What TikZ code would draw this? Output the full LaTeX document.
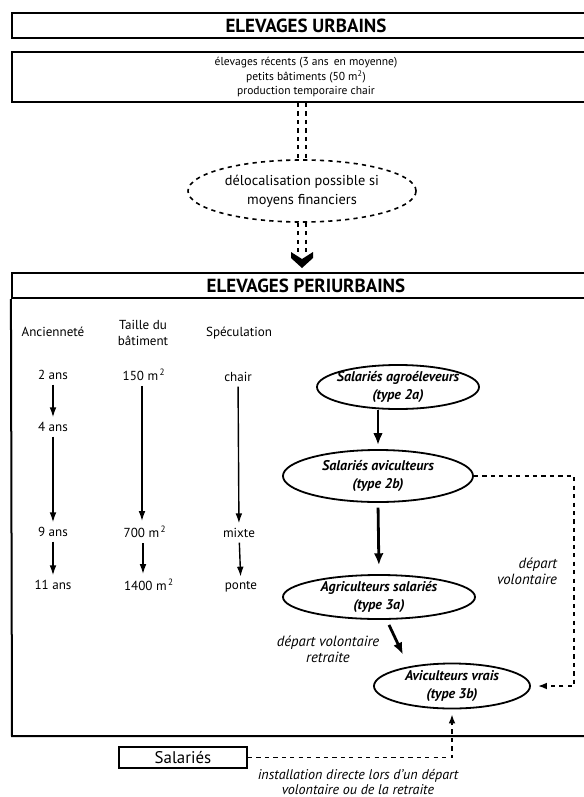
\documentclass[tikz,border=0pt]{standalone}
\usepackage{fontspec}
\setmainfont{PT Sans}
\usetikzlibrary{shapes.geometric,arrows.meta,calc}

\begin{document}
\begin{tikzpicture}[x=0.025cm,y=-0.025cm,
  frame/.style={draw, black, line width=0.05 cm, inner sep=0pt, minimum width=14.7cm},
  head/.style={font=\fontsize{13.5}{15}\selectfont\bfseries},
  small/.style={font=\fontsize{8.2}{10}\selectfont, align=center},
  col/.style={font=\fontsize{9.3}{11}\selectfont, align=center},
  type/.style={ellipse, draw, line width=0.045 cm, inner sep=0pt},
  typetext/.style={font=\fontsize{10}{12.3}\selectfont\bfseries\itshape, align=center},
  note/.style={font=\fontsize{10.5}{11.5}\selectfont\itshape, align=center},
  down/.style={-{Latex[length=0.25cm,width=0.17cm]}, line width=0.035 cm},
  fat/.style={-{Latex[length=0.3cm,width=0.24cm]}, line width=0.07 cm},
  link/.style={dashed, line width=0.035 cm, -{Latex[length=0.22cm,width=0.17cm]}},
  dbl/.style={double, double distance=0.16cm, line width=0.035 cm, dashed}]
\useasboundingbox (0,0) rectangle (584,797);
\clip (0,0) rectangle (584,797);

\node[frame, head, minimum height=0.625cm] (urb) at (306,25.5) {ELEVAGES URBAINS};
\node[frame, small, minimum height=1.25cm] (recent) at (306,77)
  {élevages récents (3 ans\, en moyenne)\\petits bâtiments (50 m\textsuperscript{2})\\production temporaire chair};
\node[type, dashed, line width=0.04 cm, minimum width=5.7cm, minimum height=1.55cm,
  label={[font=\fontsize{10.2}{13.5}\selectfont, align=center]center:délocalisation possible si\\moyens financiers}] (deloc) at (302,191) {};
\node[frame, head, minimum height=0.625cm] (peri) at (306,285.5) {ELEVAGES PERIURBAINS};
\draw[black, line width=0.05 cm] (peri.south west) -- (12,736) -- (600,736);
\coordinate (tip) at (302,268);
\draw[dbl] (recent.south -| deloc.north) -- (deloc.north);
\draw[dbl, shorten >=0.4cm] (deloc.south) -- (tip);
\fill (291,252) -- (302,259) -- (313,252) -- (313,258) -- (tip) -- (291,258) -- cycle;

\node[col] (anc) at (53,332) {Ancienneté};
\node[col] (taille) at (143,333) {Taille du\\bâtiment};
\node[col] (spec) at (239,333) {Spéculation};
\node[col] (a2) at (53,375) {2 ans};
\node[col] (a4) at (53,427) {4 ans};
\node[col] (a9) at (53,532) {9 ans};
\node[col] (a11) at (53,585) {11 ans};
\node[col] (t150) at (144,375) {150 m\textsuperscript{\,2}};
\node[col] (t700) at (145,532) {700 m\textsuperscript{\,2}};
\node[col] (t1400) at (149,585) {1400 m\textsuperscript{\,2}};
\node[col] (chair) at (238,377) {chair};
\node[col] (mixte) at (239,533) {mixte};
\node[col] (ponte) at (241,587) {ponte};
\draw[down] (a2) -- (a4);
\draw[down] (a4) -- (a9);
\draw[down] (a9) -- (a11);
\draw[down] (t150.south -| 142,0) -- (t700.north -| 142,0);
\draw[down] (t700.south -| 143,0) -- (t1400.north -| 143,0);
\draw[down] (chair) -- (mixte);
\draw[down] (mixte) -- (ponte);

\node[type, minimum width=4.05cm, minimum height=1.1cm,
  label={[typetext]center:Salariés agroéleveurs\\(type 2a)}] (agro) at (398,387) {};
\node[type, minimum width=4.75cm, minimum height=1.3cm,
  label={[typetext]center:Salariés aviculteurs\\(type 2b)}] (avic) at (378,476) {};
\node[type, minimum width=4.8cm, minimum height=1.1cm,
  label={[typetext]center:Agriculteurs salariés\\(type 3a)}] (agri) at (379,597) {};
\node[type, minimum width=3.9cm, minimum height=1.125cm,
  label={[typetext]center:Aviculteurs vrais\\(type 3b)}] (vrais) at (452,686) {};
\draw[fat, shorten >=0.1cm] (avic.north |- agro.south) -- (avic.north);
\draw[fat, shorten <=0.12cm, shorten >=0.22cm] (avic.south) -- (agri.north);
\draw[fat] ($(agri.south)+(10,5)$) -- ($(vrais.north)+(-49,-8)$);
\node[note] (dvr) at (328,649) {départ volontaire\\retraite};
\draw[link, shorten >=0.18cm] (avic.east) -- ++(100,0) |- (vrais.east);
\node[note, align=right, anchor=east] (dv) at (562,571) {départ\\volontaire};

\node[draw, line width=0.05 cm, minimum width=3.2cm, minimum height=0.525cm,
  font=\fontsize{12}{13}\selectfont] (sal) at (183,757.5) {Salariés};
\draw[link, shorten >=0.13cm] (sal.east) -| (vrais.south);
\node[note, font=\fontsize{10}{10.3}\selectfont\itshape] (inst) at (358,782)
  {installation directe lors d'un départ\\volontaire ou de la retraite};
\end{tikzpicture}
\end{document}
